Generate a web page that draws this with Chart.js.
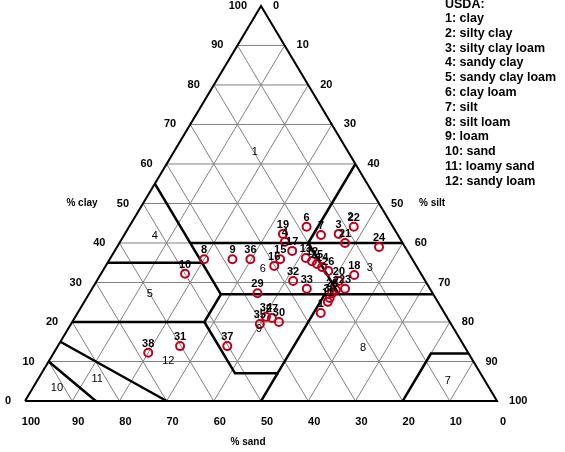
<!DOCTYPE html>
<html>
<head>
<meta charset="utf-8">
<script src="https://cdn.jsdelivr.net/npm/chart.js@4/dist/chart.umd.min.js"></script>
<style>
  html, body { margin: 0; padding: 0; background: #fff; }
  #soilChart { display: block; }
</style>
</head>
<body>
<canvas id="soilChart" width="565" height="452"></canvas>
<script>
const sampleIds  = ['1', '2', '3', '4', '6', '7', '8', '9', '10', '11', '12', '13', '14', '15', '16', '17', '18', '19', '20',
                    '21', '22', '23', '24', '25', '26', '27', '28', '29', '30', '31', '32', '33', '34', '35', '36', '37', '38', '39'];
const sampleSand = [26.2, 20.1, 12.4, 24.8, 18.3, 16.3, 44.1, 38.1, 50.0, 23.3, 21.5, 22.4, 20.1, 28.0, 30.1, 24.4, 14.3, 24.2, 18.3,
                    12.2, 8.3, 18.0, 5.5, 20.8, 19.3, 37.2, 21.3, 37.1, 36.2, 60.2, 28.0, 26.1, 38.3, 40.5, 34.3, 50.2, 67.8, 22.4];
const sampleClay = [22.3, 28.1, 42.3, 40.3, 44.1, 42.0, 35.9, 35.9, 32.2, 25.1, 35.4, 36.2, 33.9, 35.9, 34.2, 38.0, 31.9, 42.3, 30.4,
                    40.0, 44.1, 28.4, 39.0, 34.7, 32.9, 21.0, 27.3, 27.3, 20.0, 13.9, 30.4, 28.4, 21.3, 19.5, 35.9, 13.9, 12.2, 26.1];

// USDA classes
const classNames = ['clay', 'silty clay', 'silty clay loam', 'sandy clay', 'sandy clay loam', 'clay loam',
                    'silt', 'silt loam', 'loam', 'sand', 'loamy sand', 'sandy loam'];
const classLabelSand = [19.8, 7.8, 10.1, 51.6, 60.0, 32.9, 7.9, 21.7, 41.3, 91.6, 81.9, 64.6];
const classLabelClay = [63.0, 46.6, 33.7, 41.8, 27.1, 33.4, 5.1, 13.4, 18.2, 3.3, 5.6, 10.1];

// class boundaries as [sand, clay] corners
const classBorders = [
  [[45, 55], [45, 27]],
  [[65, 35], [45, 35]],
  [[45, 40], [0, 40]],
  [[20, 40], [0, 60]],
  [[20, 40], [20, 27]],
  [[80, 20], [52, 20], [45, 27], [0, 27]],
  [[52, 20], [52, 7], [43, 7], [23, 27]],
  [[43, 7], [50, 0]],
  [[85, 15], [70, 0]],
  [[90, 10], [85, 0]],
  [[20, 0], [8, 12], [0, 12]]
];
const outline = [[100, 0], [0, 0], [0, 100], [100, 0]];

const gridSteps = [10, 20, 30, 40, 50, 60, 70, 80, 90];
const axisTicks = [0, 10, 20, 30, 40, 50, 60, 70, 80, 90, 100];

// ternary -> plane (x along the base, y = clay)
function toXY(sand, clay) {
  return { x: 100 - sand - clay / 2, y: clay };
}

const gridLines = [];
gridSteps.forEach(v => {
  gridLines.push([toXY(100 - v, v), toXY(0, v)]);        // clay
  gridLines.push([toXY(v, 0), toXY(v, 100 - v)]);        // sand
  gridLines.push([toXY(100 - v, 0), toXY(0, 100 - v)]);  // silt
});

const lineSet = (pts, color, width, order) => ({
  data: pts,
  showLine: true,
  borderColor: color,
  borderWidth: width,
  pointRadius: 0,
  fill: false,
  order: order
});

const datasets = [
  {
    data: sampleSand.map((s, i) => toXY(s, sampleClay[i])),
    pointRadius: 4,
    pointBorderWidth: 2,
    pointBorderColor: '#c00018',
    pointBackgroundColor: 'rgba(0,0,0,0)',
    showLine: false,
    order: 0
  },
  lineSet(outline.map(p => toXY(p[0], p[1])), '#000', 2, 1),
  ...classBorders.map(b => lineSet(b.map(p => toXY(p[0], p[1])), '#000', 2.5, 1)),
  ...gridLines.map(g => lineSet(g, '#808080', 1, 2))
];

const FONT = '"Liberation Sans", Arial, sans-serif';

const labelPlugin = {
  id: 'ternaryLabels',
  afterDatasetsDraw(chart) {
    const ctx = chart.ctx;
    const sx = chart.scales.x, sy = chart.scales.y;
    const px = (sand, clay) => {
      const p = toXY(sand, clay);
      return { x: sx.getPixelForValue(p.x), y: sy.getPixelForValue(p.y) };
    };
    ctx.save();
    ctx.fillStyle = '#000';
    ctx.textBaseline = 'middle';

    // region numbers
    ctx.font = '11px ' + FONT;
    ctx.textAlign = 'center';
    classNames.forEach((n, i) => {
      const p = px(classLabelSand[i], classLabelClay[i]);
      ctx.fillText(String(i + 1), p.x, p.y);
    });

    // axis ticks
    ctx.font = 'bold 11px ' + FONT;
    axisTicks.forEach(v => {
      let p = px(v, 0);
      ctx.textAlign = 'center';
      ctx.fillText(String(v), p.x + 6, p.y + 21);
      p = px(100 - v, v);
      ctx.textAlign = 'right';
      ctx.fillText(String(v), p.x - 14, p.y);
      p = px(0, v);
      ctx.textAlign = 'left';
      ctx.fillText(String(100 - v), p.x + 12, p.y);
    });

    // axis titles
    ctx.font = 'bold 10px ' + FONT;
    ctx.textAlign = 'center';
    let p = px(50, 50);
    ctx.fillText('% clay', p.x - 61, p.y);
    p = px(0, 50);
    ctx.textAlign = 'left';
    ctx.fillText('% silt', p.x + 40, p.y);
    p = px(50, 0);
    ctx.textAlign = 'center';
    ctx.fillText('% sand', p.x - 13, p.y + 41);

    // sample labels
    ctx.font = 'bold 11px ' + FONT;
    chart.getDatasetMeta(0).data.forEach((el, i) => {
      ctx.fillText(sampleIds[i], el.x, el.y - 9);
    });

    // key
    ctx.font = 'bold 12.5px ' + FONT;
    ctx.textAlign = 'left';
    ctx.fillText('USDA:', 445, 5);
    classNames.forEach((n, i) => {
      ctx.fillText((i + 1) + ': ' + n, 445, 18.5 + i * 14.8);
    });
    ctx.restore();
  }
};

new Chart(document.getElementById('soilChart'), {
  type: 'scatter',
  data: { datasets: datasets },
  options: {
    responsive: false,
    animation: false,
    events: [],
    layout: { padding: 0, autoPadding: false },
    plugins: {
      legend: { display: false },
      tooltip: { enabled: false }
    },
    scales: {
      x: { type: 'linear', min: -5.3, max: 114.4, display: false },
      y: { type: 'linear', min: -12.9, max: 101.5, display: false }
    }
  },
  plugins: [labelPlugin]
});
</script>
</body>
</html>
